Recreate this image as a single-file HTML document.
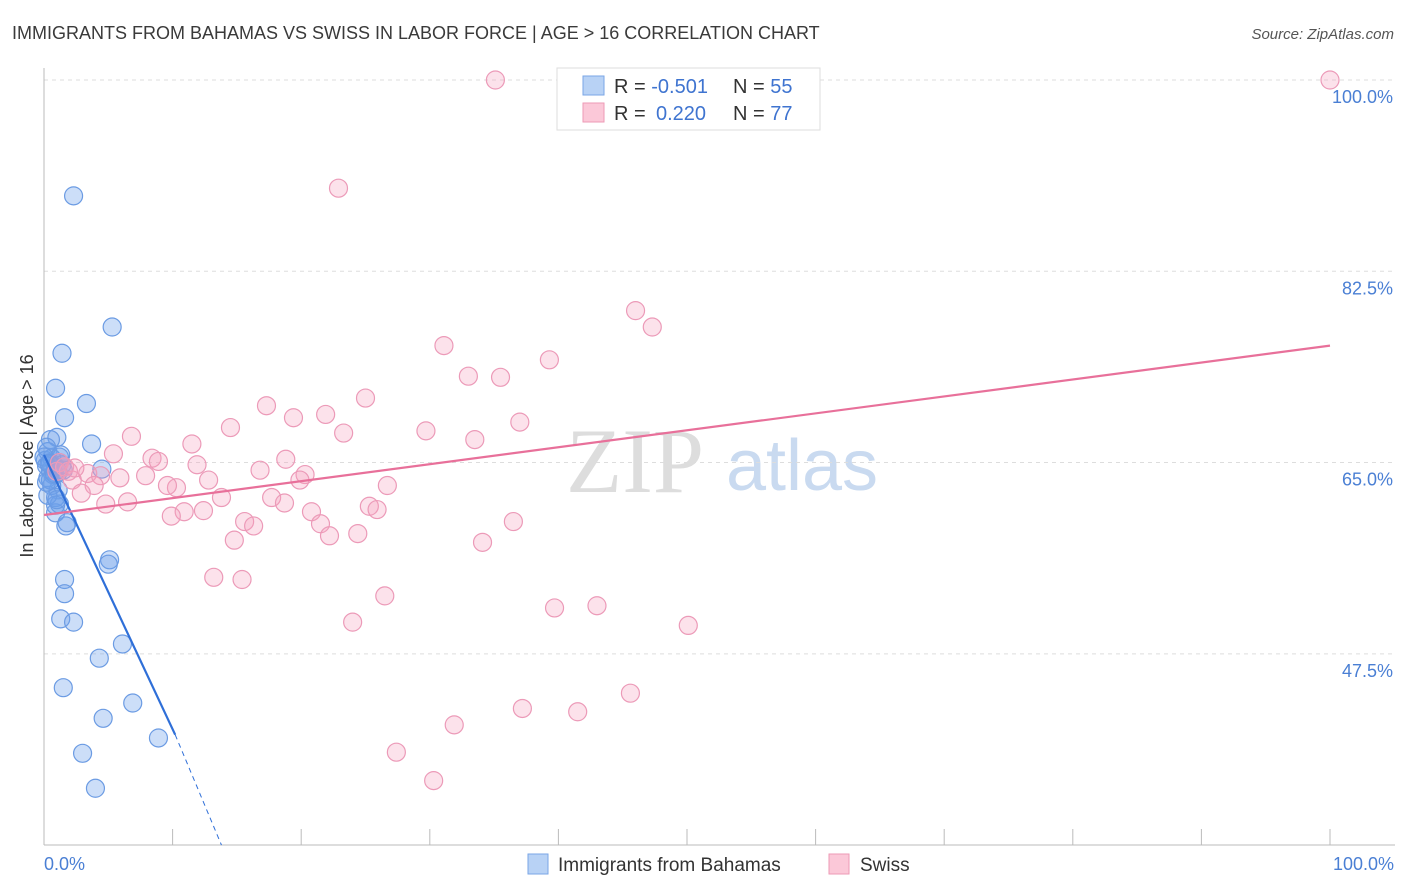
<!DOCTYPE html>
<html><head><meta charset="utf-8"><style>
body{margin:0;background:#fff;font-family:"Liberation Sans",sans-serif}
svg{display:block}
</style></head><body>
<svg id="chart" width="1406" height="892" viewBox="0 0 1406 892">
<text x="12" y="39" font-size="18" fill="#3a3a3a">IMMIGRANTS FROM BAHAMAS VS SWISS IN LABOR FORCE | AGE &gt; 16 CORRELATION CHART</text>
<text x="1394" y="39" font-size="15" font-style="italic" fill="#555" text-anchor="end">Source: ZipAtlas.com</text>
<g><text x="635" y="492" font-size="92" font-family="Liberation Serif,serif" fill="#ddd" text-anchor="middle">ZIP</text><text x="802" y="490" font-size="72" fill="#c9daf0" text-anchor="middle">atlas</text></g>
<g id="grid"></g>
<g id="axes"></g>
<g id="pts"></g>
<g id="trends"></g>
<text x="33" y="456" font-size="18" fill="#333" text-anchor="middle" transform="rotate(-90 33 456)">In Labor Force | Age &gt; 16</text>
<text x="44" y="870" font-size="18" fill="#4a7fd4">0.0%</text>
<text x="1394" y="870" font-size="18" fill="#4a7fd4" text-anchor="end">100.0%</text>
<g>
<rect x="557" y="68" width="263" height="62" fill="#fff" stroke="#ddd"/>
<rect x="583" y="76" width="21" height="19" fill="#b8d2f5" stroke="#7aa6e6"/>
<rect x="583" y="103" width="21" height="19" fill="#fbc8d8" stroke="#ee9ab6"/>
<text x="614" y="93" font-size="20" fill="#333">R = <tspan fill="#3f74d0">-0.501</tspan>  <tspan x="733">N = </tspan><tspan fill="#3f74d0">55</tspan></text>
<text x="614" y="120" font-size="20" fill="#333">R = <tspan x="656" fill="#3f74d0">0.220</tspan><tspan x="733">N = </tspan><tspan fill="#3f74d0">77</tspan></text>
</g>
<g>
<rect x="528" y="854" width="20" height="20" fill="#b8d2f5" stroke="#7aa6e6"/>
<text x="558" y="871" font-size="19" fill="#333">Immigrants from Bahamas</text>
<rect x="829" y="854" width="20" height="20" fill="#fbc8d8" stroke="#ee9ab6"/>
<text x="860" y="871" font-size="19" fill="#333">Swiss</text>
</g>
</svg>
<script>
const yTicks=[100,82.5,65,47.5];
const yTickLabels=["100.0%","82.5%","65.0%","47.5%"];
const blueX=[2.3,5.3,1.4,0.9,3.3,1.6,1.0,3.7,0.5,0.3,1.2,4.5,0.5,0.9,1.5,0.3,1.1,0.9,1.2,0.9,1.7,1.8,5.1,5.0,1.6,1.6,1.3,2.3,6.1,4.3,1.5,6.9,4.6,8.9,3.0,4.0,0.1,0.5,0.6,0.2,1.1,0.6,0.3,0.9,1.4,0.2,0.7,1.0,0.5,1.3,0.2,1.2,0.0,0.8,0.4];
const blueY=[89.4,77.4,75.0,71.8,70.4,69.1,67.3,66.7,67.1,66.0,65.5,64.4,65.0,64.6,64.3,63.6,62.5,61.8,61.2,60.4,59.2,59.5,56.1,55.7,54.3,53.0,50.7,50.4,48.4,47.1,44.4,43.0,41.6,39.8,38.4,35.2,65.2,64.3,65.4,66.4,64.1,62.9,62.0,61.1,64.8,64.7,63.9,61.6,63.4,65.7,63.2,65.0,65.5,64.0,64.9];
const pinkX=[35.1,100,22.9,46.0,47.3,31.1,39.3,33.0,35.5,25.0,17.3,37.0,21.9,19.4,14.5,6.8,29.7,23.3,33.5,11.5,5.4,18.8,8.4,8.9,11.9,16.8,20.3,19.9,1.9,1.6,3.4,5.9,4.4,7.9,2.2,10.3,12.8,9.6,3.9,2.9,26.7,13.8,17.7,18.7,4.8,6.5,20.8,25.3,25.9,10.9,12.4,9.9,15.6,16.3,21.5,36.5,22.2,24.4,14.8,34.1,13.2,15.4,26.5,39.7,43.0,24.0,50.1,45.6,37.2,41.5,31.9,27.4,30.3,51.6,1.2,2.4,1.0];
const pinkY=[100,100,90.1,78.9,77.4,75.7,74.4,72.9,72.8,70.9,70.2,68.7,69.4,69.1,68.2,67.4,67.9,67.7,67.1,66.7,65.8,65.3,65.4,65.1,64.8,64.3,63.9,63.4,64.2,64.6,64.0,63.6,63.8,63.8,63.4,62.7,63.4,62.9,62.9,62.2,62.9,61.8,61.8,61.3,61.2,61.4,60.5,61.0,60.7,60.5,60.6,60.1,59.6,59.2,59.4,59.6,58.3,58.5,57.9,57.7,54.5,54.3,52.8,51.7,51.9,50.4,50.1,43.9,42.5,42.2,41.0,38.5,35.9,100,65.0,64.5,64.2];
const blueTrend=[[0,65.7],[10.2,40.1],[13.8,30.0]];
const pinkTrend=[[0,60.2],[100,75.7]];
const xS=v=>44+v*12.86, yS=v=>80+(100-v)*10.93;
const NS="http://www.w3.org/2000/svg";
function mk(t,a,p){const e=document.createElementNS(NS,t);for(const k in a)e.setAttribute(k,a[k]);p.appendChild(e);return e;}
const grid=document.getElementById('grid'),axes=document.getElementById('axes'),pts=document.getElementById('pts'),tr=document.getElementById('trends');
yTicks.forEach((t,i)=>{
 const l=mk('line',{x1:44,x2:1395,y1:yS(t),y2:yS(t),stroke:'#ddd','stroke-dasharray':'4,4'},grid);
 
 
 const tx=mk('text',{x:1393,y:yS(t)+23,'font-size':18,fill:'#4a7fd4','text-anchor':'end'},grid);
 tx.textContent=yTickLabels[i];
 
 
});
mk('line',{x1:44,x2:44,y1:68,y2:845,stroke:'#bbb'},axes);
mk('line',{x1:44,x2:1395,y1:845,y2:845,stroke:'#bbb'},axes);
for(let i=0;i<=10;i++){const t=mk('line',{x1:xS(i*10),x2:xS(i*10),y1:829,y2:845,stroke:'#bbb'},axes);
 
 }
blueX.forEach((x,i)=>{const c=mk('circle',{cx:xS(x),cy:yS(blueY[i]),r:9,fill:'rgba(110,160,235,0.35)',stroke:'#6b9be3','stroke-width':1.2},pts);
 
 });
pinkX.forEach((x,i)=>{const c=mk('circle',{cx:xS(x),cy:yS(pinkY[i]),r:9,fill:'rgba(245,160,190,0.3)',stroke:'#ec9ab8','stroke-width':1.2},pts);
 
 });
const b1=mk('line',{x1:xS(blueTrend[0][0]),y1:yS(blueTrend[0][1]),x2:xS(blueTrend[1][0]),y2:yS(blueTrend[1][1]),stroke:'#2f6fd8','stroke-width':2.2},tr);


const b2=mk('line',{x1:xS(blueTrend[1][0]),y1:yS(blueTrend[1][1]),x2:xS(blueTrend[2][0]),y2:yS(blueTrend[2][1]),stroke:'#2f6fd8','stroke-width':1,'stroke-dasharray':'5,4'},tr);


const p1=mk('line',{x1:xS(pinkTrend[0][0]),y1:yS(pinkTrend[0][1]),x2:xS(pinkTrend[1][0]),y2:yS(pinkTrend[1][1]),stroke:'#e8709a','stroke-width':2.2},tr);


</script>
</body></html>
